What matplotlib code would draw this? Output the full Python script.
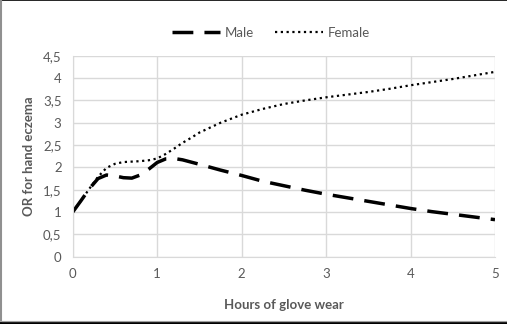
import matplotlib.pyplot as plt
from matplotlib.lines import Line2D

# hours of glove wear and odds ratios per sex
hours = [0, 0.1, 0.2, 0.3, 0.4, 0.5, 0.6, 0.7, 0.8, 0.9, 1.0, 1.1, 1.2, 1.3, 1.4,
         1.5, 1.75, 2.0, 2.25, 2.5, 2.75, 3.0, 3.25, 3.5, 3.75, 4.0, 4.25, 4.5, 4.75, 5.0]
male = [1.0, 1.26, 1.53, 1.75, 1.83, 1.81, 1.77, 1.76, 1.83, 1.96, 2.11, 2.19, 2.20, 2.17, 2.12,
        2.07, 1.94, 1.82, 1.69, 1.59, 1.49, 1.40, 1.32, 1.24, 1.16, 1.08, 1.01, 0.95, 0.89, 0.83]
female = [1.0, 1.26, 1.53, 1.79, 1.99, 2.08, 2.12, 2.13, 2.14, 2.16, 2.20, 2.30, 2.42, 2.55, 2.66,
          2.78, 3.00, 3.18, 3.31, 3.42, 3.50, 3.57, 3.63, 3.69, 3.76, 3.84, 3.91, 3.98, 4.06, 4.14]

xticks = [0, 1, 2, 3, 4, 5]
yticks = [0, 0.5, 1, 1.5, 2, 2.5, 3, 3.5, 4, 4.5]
ytick_labels = ['0', '0,5', '1', '1,5', '2', '2,5', '3', '3,5', '4', '4,5']

plt.rcParams['font.family'] = ['Lato', 'DejaVu Sans']
grey = '#595959'

fig = plt.figure(figsize=(5.07, 3.24), dpi=100)
ax = fig.add_axes([0.1434, 0.2077, 0.8329, 0.6201])

ax.plot(hours, male, color='black', lw=2.5, dashes=(6, 3.2), solid_capstyle='butt',
        dash_capstyle='butt', label='Male')
ax.plot(hours, female, color='black', lw=1.6, dashes=(1, 1.6), dash_capstyle='butt',
        label='Female')

ax.set_xlim(0, 5)
ax.set_ylim(0, 4.5)
ax.set_xticks(xticks)
ax.set_yticks(yticks)
ax.set_yticklabels(ytick_labels)
ax.grid(True, color='#d9d9d9', lw=1)
ax.set_axisbelow(True)
for s in ax.spines.values():
    s.set_visible(False)
ax.spines['bottom'].set_visible(True)
ax.spines['bottom'].set_color('#d9d9d9')
ax.spines['left'].set_visible(True)
ax.spines['left'].set_color('#d9d9d9')
ax.tick_params(length=0, labelsize=9.5, colors=grey, pad=8)

ax.set_xlabel('Hours of glove wear', fontsize=9.5, color=grey, fontweight='bold', labelpad=14)
ax.set_ylabel('OR for hand eczema', fontsize=9.5, color=grey, fontweight='bold', labelpad=6)

leg = fig.legend(loc='center', bbox_to_anchor=(0.535, 0.898), ncol=2, frameon=False,
                 fontsize=9.5, handlelength=3.6, columnspacing=1.6, handletextpad=0.4)
for t in leg.get_texts():
    t.set_color(grey)

# outer frame
fig.add_artist(Line2D([0, 1], [0.9985, 0.9985], color='black', lw=1.2))
fig.add_artist(Line2D([0.002, 0.002], [0, 1], color='#909090', lw=1.5))
fig.add_artist(Line2D([0, 1], [0.004, 0.004], color='black', lw=2))
fig.add_artist(Line2D([0, 1], [0.009, 0.009], color='#a0a0a0', lw=0.8))

fig.savefig('out.png', dpi=100)
